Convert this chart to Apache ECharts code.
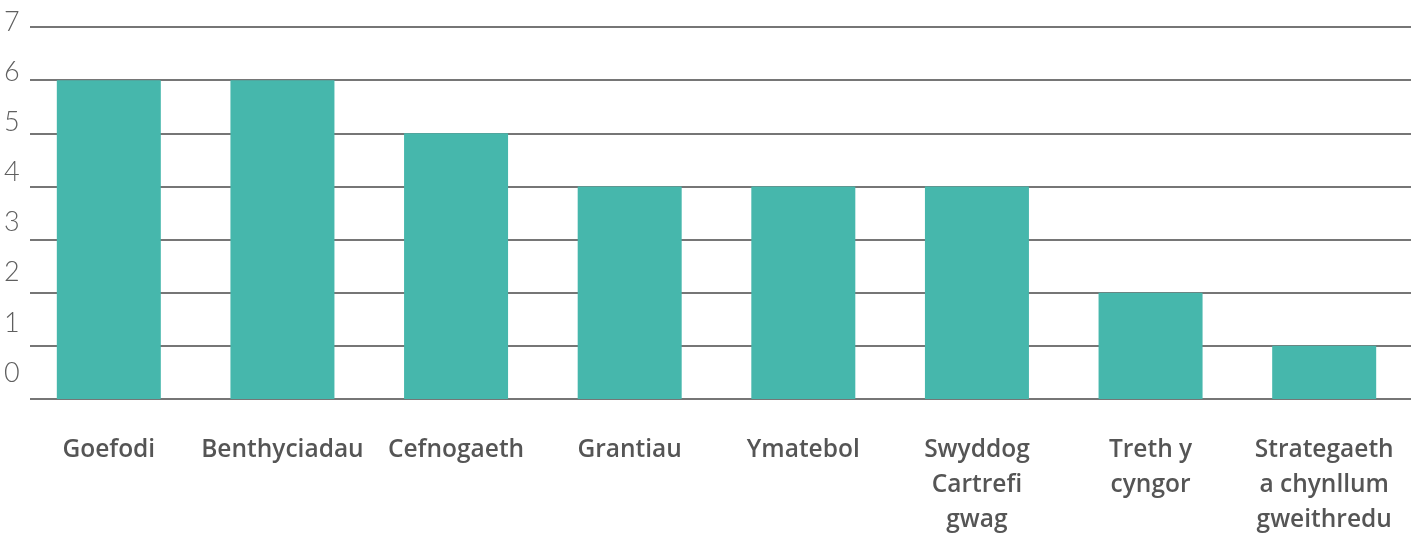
<!DOCTYPE html>
<html>
<head>
<meta charset="utf-8">
<script src="https://cdn.jsdelivr.net/npm/echarts@6/dist/echarts.min.js"></script>
<style>html,body{margin:0;padding:0;background:#fff;}#c{width:1416px;height:539px;}</style>
</head>
<body>
<div id="c"></div>
<script>
const categories = ["Goefodi", "Benthyciadau", "Cefnogaeth", "Grantiau", "Ymatebol", "Swyddog\nCartrefi\ngwag", "Treth y\ncyngor", "Strategaeth\na chynllum\ngweithredu"];
const values = [6, 6, 5, 4, 4, 4, 2, 1];
const yTicks = [0, 1, 2, 3, 4, 5, 6, 7];

const chart = echarts.init(document.getElementById('c'));
chart.setOption({
  animation: false,
  backgroundColor: '#ffffff',
  grid: [
    { left: 30, right: 5, top: 27, bottom: 140 },   // gridlines
    { left: 22, right: 5, top: 27, bottom: 140 },   // bars
    { left: 0, width: 30, top: 22, bottom: 166 }    // y labels
  ],
  xAxis: [
    { gridIndex: 0, type: 'category', data: categories, show: false },
    { gridIndex: 1, type: 'category', data: categories,
      axisLine: { show: false }, axisTick: { show: false },
      axisLabel: { interval: 0, margin: 34, color: '#555555', fontFamily: 'Open Sans', fontWeight: 600, fontSize: 24.5, lineHeight: 35, verticalAlign: 'top' } },
    { gridIndex: 2, type: 'category', data: ['a'], show: false }
  ],
  yAxis: [
    { gridIndex: 0, type: 'value', min: 0, max: 7, interval: 1,
      axisLine: { show: false }, axisTick: { show: false }, axisLabel: { show: false },
      splitLine: { show: true, lineStyle: { color: '#767676', width: 2 } } },
    { gridIndex: 1, type: 'value', min: 0, max: 7, interval: 1, show: false },
    { gridIndex: 2, type: 'value', min: yTicks[0], max: yTicks[yTicks.length - 1], interval: 1,
      axisLine: { show: false }, axisTick: { show: false }, splitLine: { show: false },
      axisLabel: { inside: true, margin: 4, color: '#5f5f5f', fontFamily: 'Lato', fontWeight: 300, fontSize: 27 } }
  ],
  series: [{
    type: 'bar',
    xAxisIndex: 1, yAxisIndex: 1,
    data: values,
    barWidth: 104,
    itemStyle: { color: '#46b7ac' }
  }]
});
</script>
</body>
</html>
